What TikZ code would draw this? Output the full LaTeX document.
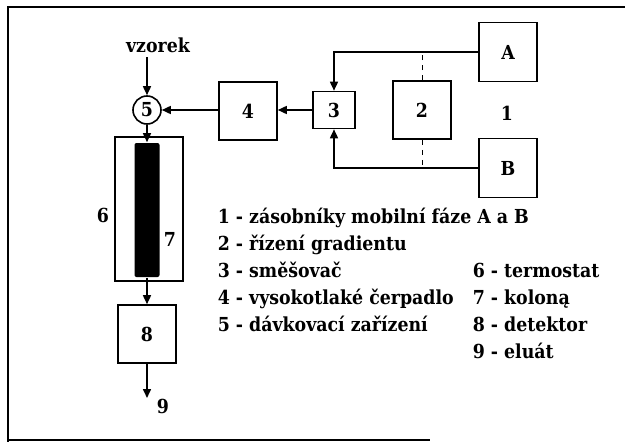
\documentclass[tikz,border=0pt]{standalone}
\usepackage{fontspec}
\setmainfont{DejaVu Serif Condensed}
\usetikzlibrary{arrows.meta,calc}
\begin{document}
\begin{tikzpicture}[x=1pt,y=-1pt,
  line width=1.6pt,
  fnt/.style={font=\fontsize{19.3}{22}\selectfont\bfseries},
  box/.style={draw,line width=1.6pt,minimum width=#1,minimum height=#1,inner sep=0pt,fnt},
  box/.default=58pt,
  arr/.style={-{Triangle[length=9pt,width=8pt]}},
  lbl/.style={fnt,inner sep=0pt},
  leg/.style={fnt,anchor=base west,inner sep=0pt}]
\useasboundingbox (0,0) rectangle (625,442);
% frame
\draw[line width=2pt] (625,7) -- (8,7) -- (8,442);
\draw[line width=2pt] (8,440) -- (430,440);
% nodes
\node[lbl] (vz) at (158,45) {vzorek};
\coordinate (vzs) at (147,57);
\node[draw,circle,minimum size=28pt,inner sep=0pt,lbl,line width=1.6pt] (c5) at (147,110) {5};
\node[box] (b4) at (248,111) {4};
\node[box,minimum width=42pt,minimum height=37pt] (b3) at (334,110) {3};
\node[box] (b2) at (422,110) {2};
\node[box,minimum height=59pt] (bA) at (508,52) {A};
\node[box,minimum height=59pt] (bB) at (508,168) {B};
\node[lbl] (n1) at (507,113) {1};
\node[draw,line width=1.6pt,minimum width=68pt,minimum height=144pt,inner sep=0pt] (b6) at (149,209) {};
\node[fill=black,rounded corners=2pt,minimum width=25pt,minimum height=134pt,inner sep=0pt] (b7) at (147,210) {};
\node[lbl] (n6) at (103,215) {6};
\node[lbl] (n7) at (170,239) {7};
\node[box] (b8) at (147,334) {8};
\coordinate (e9) at (147,398);
\node[lbl] (n9) at (163,406) {9};
% connectors
\draw[arr] (vzs) -- (c5.north);
\draw[arr] (b4.west |- c5.east) -- (c5.east);
\draw[arr] (b3.west) -- (b3.west -| b4.east);
\draw[arr] (bA.west) -| (b3.north);
\draw[arr] (bB.west) -| (b3.south);
\draw[line width=1pt,dash pattern=on 5pt off 5pt] (b2.north) -- (b2.north |- bA.west);
\draw[line width=1pt,dash pattern=on 5pt off 5pt] (b2.south) -- (b2.south |- bB.west);
\draw[arr] (c5.south) -- (b7.north);
\draw[arr] (b7.south) -- (b8.north);
\draw[arr] (b8.south) -- (e9);
% legend
\node[leg] (l1) at (217,223) {1 - zásobníky mobilní fáze A a B};
\node[leg] (l2) at (217,250) {2 - řízení gradientu};
\node[leg] (l3) at (217,277) {3 - směšovač};
\node[leg] (l4) at (217,304) {4 - vysokotlaké čerpadlo};
\node[leg] (l5) at (217,331) {5 - dávkovací zařízení};
\node[leg] (l6) at (472,277) {6 - termostat};
\node[leg] (l7) at (472,304) {7 - koloną};
\node[leg] (l8) at (472,331) {8 - detektor};
\node[leg] (l9) at (472,358) {9 - eluát};
\end{tikzpicture}
\end{document}
